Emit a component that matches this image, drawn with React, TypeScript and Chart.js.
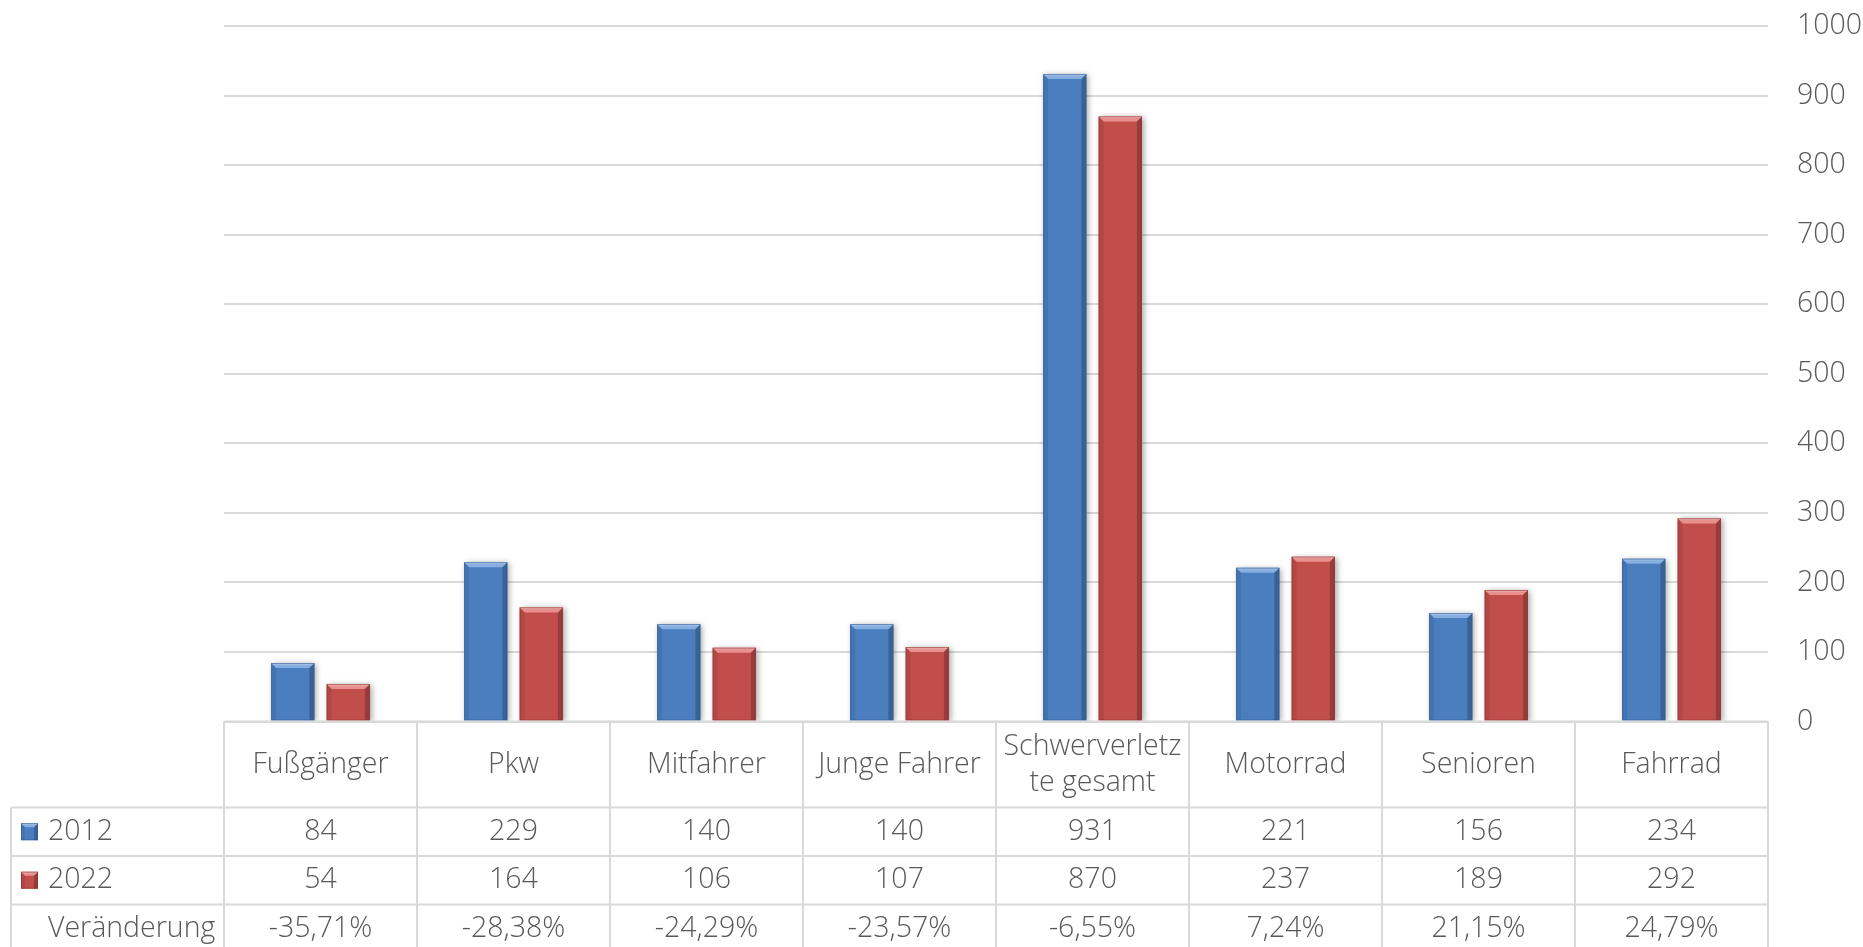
import React, { useEffect, useRef } from "react";
import { Chart, registerables } from "chart.js";

Chart.register(...registerables);

// ---- data ----
const categories: (string | string[])[] = [
  "Fußgänger",
  "Pkw",
  "Mitfahrer",
  "Junge Fahrer",
  ["Schwerverletz", "te gesamt"],
  "Motorrad",
  "Senioren",
  "Fahrrad",
];
const seriesNames = ["2012", "2022"];
const values2012 = [84, 229, 140, 140, 931, 221, 156, 234];
const values2022 = [54, 164, 106, 107, 870, 237, 189, 292];
const changeTitle = "Veränderung";
const changeLabels = ["-35,71%", "-28,38%", "-24,29%", "-23,57%", "-6,55%", "7,24%", "21,15%", "24,79%"];
const yMin = 0;
const yMax = 1000;
const yStep = 100;

// ---- style ----
const FONT_FAMILY = "'Open Sans', 'Noto Sans', sans-serif";
const FONT_WEIGHT = "300";
const FONT_SIZE = 28.5;
const TEXT_COLOR = "#595959";
const GRID_COLOR = "#D9D9D9";
const baseColors = ["#4A7EBF", "#C24E4B"];
const hiColors = ["#86AEE0", "#E8908E"];
const darkColors = ["#2F5A8F", "#8C2F2D"];

function drawBevelRect(ctx: CanvasRenderingContext2D, left: number, top: number, right: number, bottom: number, i: number, b: number) {
  ctx.save();
  ctx.shadowColor = "transparent";
  // top facet
  ctx.beginPath();
  ctx.moveTo(left, top);
  ctx.lineTo(right, top);
  ctx.lineTo(right - b, top + b);
  ctx.lineTo(left + b, top + b);
  ctx.closePath();
  ctx.fillStyle = hiColors[i];
  ctx.fill();
  // left strip
  ctx.beginPath();
  ctx.moveTo(left, top);
  ctx.lineTo(left + b, top + b);
  ctx.lineTo(left + b, bottom);
  ctx.lineTo(left, bottom);
  ctx.closePath();
  ctx.fillStyle = "rgba(0,0,0,0.08)";
  ctx.fill();
  // right strip
  ctx.beginPath();
  ctx.moveTo(right, top);
  ctx.lineTo(right - b, top + b);
  ctx.lineTo(right - b, bottom);
  ctx.lineTo(right, bottom);
  ctx.closePath();
  ctx.fillStyle = "rgba(0,0,0,0.22)";
  ctx.fill();
  // top highlight line
  ctx.strokeStyle = "rgba(255,255,255,0.45)";
  ctx.lineWidth = 1;
  ctx.beginPath();
  ctx.moveTo(left + 1, top + 1);
  ctx.lineTo(right - 1, top + 1);
  ctx.stroke();
  // outline
  ctx.strokeStyle = darkColors[i];
  ctx.globalAlpha = 0.55;
  ctx.strokeRect(left + 0.5, top + 0.5, right - left - 1, bottom - top - 1);
  ctx.restore();
}

const bevelPlugin = {
  id: "bevelBars",
  beforeDatasetDraw(chart: any) {
    const ctx = chart.ctx;
    ctx.save();
    ctx.shadowColor = "rgba(0,0,0,0.35)";
    ctx.shadowBlur = 6;
    ctx.shadowOffsetX = 2;
    ctx.shadowOffsetY = 1;
  },
  afterDatasetDraw(chart: any, args: any) {
    const ctx = chart.ctx;
    ctx.restore();
    const meta = args.meta;
    const i = args.index;
    meta.data.forEach((el: any) => {
      const p = el.getProps(["x", "y", "base", "width"], true);
      const left = p.x - p.width / 2;
      const right = p.x + p.width / 2;
      const top = Math.min(p.y, p.base);
      const bottom = Math.max(p.y, p.base);
      const b = Math.min(5, (bottom - top) / 2);
      drawBevelRect(ctx, left, top, right, bottom, i, b);
    });
  },
};

const tablePlugin = {
  id: "dataTable",
  afterDraw(chart: any) {
    const ctx: CanvasRenderingContext2D = chart.ctx;
    const xs = chart.scales.x;
    const area = chart.chartArea;
    const n = categories.length;
    const colW = (area.right - area.left) / n;
    const top = area.bottom;
    const headerH = 86;
    const rowH = 48.5;
    const r1 = top + headerH;
    const r2 = r1 + rowH;
    const r3 = r2 + rowH;
    const r4 = r3 + rowH;
    const legendLeft = 11;

    ctx.save();
    ctx.strokeStyle = GRID_COLOR;
    ctx.lineWidth = 2;
    ctx.beginPath();
    ctx.moveTo(area.left, top);
    ctx.lineTo(area.right, top);
    [r1, r2, r3, r4].forEach((yy) => {
      ctx.moveTo(legendLeft, yy);
      ctx.lineTo(area.right, yy);
    });
    for (let k = 0; k <= n; k++) {
      const xx = xs.getPixelForValue(0) - colW / 2 + k * colW;
      ctx.moveTo(xx, top);
      ctx.lineTo(xx, r4);
    }
    ctx.moveTo(legendLeft, r1);
    ctx.lineTo(legendLeft, r4);
    ctx.stroke();

    ctx.fillStyle = TEXT_COLOR;
    ctx.font = `${FONT_WEIGHT} ${FONT_SIZE}px ${FONT_FAMILY}`;
    ctx.textAlign = "center";
    ctx.textBaseline = "middle";
    const hMid = top + headerH / 2;
    categories.forEach((c, k) => {
      const cx = xs.getPixelForValue(k);
      const lines = Array.isArray(c) ? c : [c];
      const lh = 36;
      lines.forEach((ln, j) => {
        ctx.fillText(ln, cx, hMid + (j - (lines.length - 1) / 2) * lh);
      });
      ctx.fillText(String(values2012[k]), cx, r1 + rowH / 2);
      ctx.fillText(String(values2022[k]), cx, r2 + rowH / 2);
      ctx.fillText(changeLabels[k], cx, r3 + rowH / 2);
    });

    ctx.textAlign = "left";
    const textX = 48;
    [r1, r2].forEach((ry, i) => {
      const my = ry + rowH / 2;
      const s = 17;
      const mx = 21;
      const myTop = my - s / 2;
      ctx.fillStyle = baseColors[i];
      ctx.fillRect(mx, myTop, s, s);
      drawBevelRect(ctx, mx, myTop, mx + s, myTop + s, i, 4);
      ctx.fillStyle = TEXT_COLOR;
      ctx.fillText(seriesNames[i], textX, my);
    });
    ctx.fillText(changeTitle, textX, r3 + rowH / 2);
    ctx.restore();
  },
};

export default function App() {
  const ref = useRef<HTMLCanvasElement | null>(null);
  useEffect(() => {
    document.body.style.margin = "0";
    const canvas = ref.current;
    if (!canvas) return;
    const chart = new Chart(canvas, {
      type: "bar",
      data: {
        labels: categories as any,
        datasets: [
          {
            label: seriesNames[0],
            data: values2012,
            backgroundColor: baseColors[0],
            categoryPercentage: 0.575,
            barPercentage: 0.78,
          },
          {
            label: seriesNames[1],
            data: values2022,
            backgroundColor: baseColors[1],
            categoryPercentage: 0.575,
            barPercentage: 0.78,
          },
        ],
      },
      options: {
        animation: false,
        responsive: false,
        devicePixelRatio: 1,
        layout: { padding: { left: 224, right: 0, top: 26, bottom: 225.5 } },
        plugins: {
          legend: { display: false },
          tooltip: { enabled: false },
          title: { display: false },
        },
        scales: {
          x: {
            display: false,
            grid: { display: false },
          },
          y: {
            position: "right",
            min: yMin,
            max: yMax,
            ticks: {
              stepSize: yStep,
              padding: 0,
              color: TEXT_COLOR,
              font: { family: FONT_FAMILY, size: FONT_SIZE, weight: FONT_WEIGHT as any },
              callback: (v: any) => String(v),
            },
            grid: {
              color: GRID_COLOR,
              lineWidth: 2,
              drawTicks: true,
              tickLength: 29,
              tickColor: "rgba(0,0,0,0)",
            },
            border: { display: false },
            afterFit: (scale: any) => {
              scale.width = 95;
            },
          },
        },
      },
      plugins: [bevelPlugin, tablePlugin],
    });
    return () => chart.destroy();
  }, []);
  return (
    <div style={{ width: 1863, height: 947, background: "#fff" }}>
      <canvas ref={ref} width={1863} height={947} style={{ display: "block" }} />
    </div>
  );
}
